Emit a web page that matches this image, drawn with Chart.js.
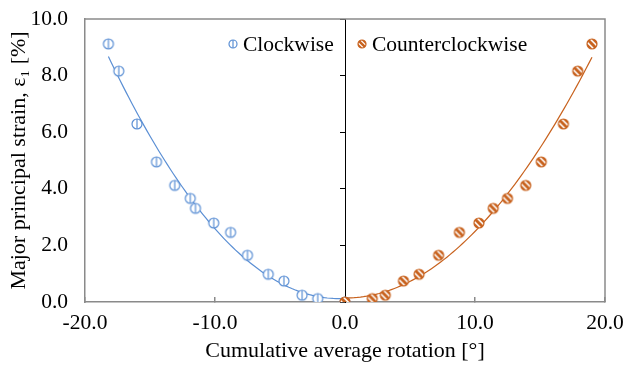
<!DOCTYPE html>
<html>
<head>
<meta charset="utf-8">
<script src="https://cdn.jsdelivr.net/npm/chart.js@4.4.0/dist/chart.umd.min.js"></script>
<style>
  html, body { margin: 0; padding: 0; background: #fff; }
  #wrap { width: 626px; height: 368px; }
</style>
</head>
<body>
<div id="wrap"><canvas id="chart" width="626" height="368"></canvas></div>
<script>
// values (rotation in degrees, strain in %)
const cwRotation  = [0, -2.1, -3.3, -4.7, -5.9, -7.5, -8.8, -10.1, -11.5, -11.9, -13.1, -14.5, -16.0, -17.4, -18.2];
const cwStrain    = [0, 0.12, 0.24, 0.74, 0.98, 1.65, 2.46, 2.79, 3.31, 3.66, 4.12, 4.95, 6.29, 8.16, 9.12];
const ccwRotation = [0, 2.1, 3.1, 4.5, 5.7, 7.2, 8.8, 10.3, 11.4, 12.5, 13.9, 15.1, 16.8, 17.9, 19.0];
const ccwStrain   = [0, 0.12, 0.24, 0.74, 0.98, 1.65, 2.46, 2.79, 3.31, 3.66, 4.12, 4.95, 6.29, 8.16, 9.12];

const xTicks = [-20, -10, 0, 10, 20];
const yTicks = [0, 2, 4, 6, 8, 10];
const seriesNames = ['Clockwise', 'Counterclockwise'];

const cwColor = '#5b8fd4';
const ccwColor = '#c8621e';
const axisGray = '#8a8a8a';
const serif = "'Liberation Serif', 'Times New Roman', serif";

//2nd order polynomial trendline (least squares), like the spreadsheet one
function quadFit(xs, ys) {
    let s = [0, 0, 0, 0, 0], t = [0, 0, 0];
    for (let i = 0; i < xs.length; i++) {
        let p = 1;
        for (let k = 0; k < 5; k++) { s[k] += p; if (k < 3) t[k] += p * ys[i]; p *= xs[i]; }
    }
    const m = [[s[0], s[1], s[2], t[0]], [s[1], s[2], s[3], t[1]], [s[2], s[3], s[4], t[2]]];
    for (let c = 0; c < 3; c++) {
        for (let r = c + 1; r < 3; r++) {
            const f = m[r][c] / m[c][c];
            for (let k = c; k < 4; k++) m[r][k] -= f * m[c][k];
        }
    }
    const b = [0, 0, 0];
    for (let r = 2; r >= 0; r--) {
        let v = m[r][3];
        for (let k = r + 1; k < 3; k++) v -= m[r][k] * b[k];
        b[r] = v / m[r][r];
    }
    return b;
}

function trendPoints(xs, ys) {
    const b = quadFit(xs, ys);
    const lo = Math.min(...xs), hi = Math.max(...xs);
    const pts = [];
    for (let i = 0; i <= 80; i++) {
        const x = lo + (hi - lo) * i / 80;
        pts.push({x: x, y: b[0] + b[1] * x + b[2] * x * x});
    }
    return pts;
}

function toPoints(xs, ys) {
    return xs.map((x, i) => ({x: x, y: ys[i]}));
}

// marker with a vertical stripe (clockwise)
function cwMarker(r) {
    const c = document.createElement('canvas');
    const s = Math.ceil(2 * r + 4);
    c.width = c.height = s;
    const g = c.getContext('2d');
    const m = s / 2;
    g.strokeStyle = cwColor;
    g.fillStyle = '#fff';
    g.lineWidth = 1.2;
    g.beginPath(); g.arc(m, m, r, 0, Math.PI * 2); g.fill(); g.stroke();
    g.beginPath(); g.moveTo(m, m - r); g.lineTo(m, m + r); g.stroke();
    return c;
}

// filled marker with white diagonal stripes (counterclockwise)
function ccwMarker(r) {
    const c = document.createElement('canvas');
    const s = Math.ceil(2 * r + 4);
    c.width = c.height = s;
    const g = c.getContext('2d');
    const m = s / 2;
    g.fillStyle = ccwColor;
    g.beginPath(); g.arc(m, m, r, 0, Math.PI * 2); g.fill();
    g.save();
    g.clip();
    g.strokeStyle = '#fff';
    g.lineWidth = r * 0.3;
    const d = r * 0.45;
    [-d, d].forEach(o => {
        g.beginPath();
        g.moveTo(m - r * 2 + o * 0.707, m - r * 2 - o * 0.707);
        g.lineTo(m + r * 2 + o * 0.707, m + r * 2 - o * 0.707);
        g.stroke();
    });
    g.restore();
    g.strokeStyle = ccwColor;
    g.lineWidth = 1.2;
    g.beginPath(); g.arc(m, m, r, 0, Math.PI * 2); g.stroke();
    return c;
}

const cwPoint = cwMarker(5);
const ccwPoint = ccwMarker(5);
const cwKey = cwMarker(4);
const ccwKey = ccwMarker(4);

// grey frame on top and right of the plot area
const framePlugin = {
    id: 'frame',
    beforeDatasetsDraw(chart) {
        const a = chart.chartArea, ctx = chart.ctx;
        ctx.save();
        ctx.strokeStyle = axisGray;
        ctx.lineWidth = 1.5;
        ctx.beginPath();
        ctx.moveTo(a.left, a.top);
        ctx.lineTo(a.right, a.top);
        ctx.lineTo(a.right, a.bottom);
        ctx.stroke();
        ctx.restore();
    }
};

// legend sits inside the plot, near the top
const keyPlugin = {
    id: 'key',
    afterDraw(chart) {
        const a = chart.chartArea, ctx = chart.ctx;
        const items = [
            {img: cwKey, text: seriesNames[0], x: a.left + 148},
            {img: ccwKey, text: seriesNames[1], x: a.left + 277}
        ];
        const y = a.top + 25;
        ctx.save();
        ctx.font = '21.5px ' + serif;
        ctx.fillStyle = '#000';
        ctx.textBaseline = 'middle';
        ctx.textAlign = 'left';
        items.forEach(it => {
            ctx.drawImage(it.img, it.x - it.img.width / 2, y - it.img.height / 2);
            ctx.fillText(it.text, it.x + 10, y + 1);
        });
        ctx.restore();
    }
};

const ctx = document.getElementById('chart').getContext('2d');
const myChart = new Chart(ctx, {
    type: 'scatter',
    data: {
        datasets: [
            {
                label: seriesNames[1],
                data: toPoints(ccwRotation, ccwStrain),
                pointStyle: ccwPoint,
                order: 0
            },
            {
                label: seriesNames[0],
                data: toPoints(cwRotation, cwStrain),
                pointStyle: cwPoint,
                order: 1
            },
            {
                label: 'trend ccw',
                data: trendPoints(ccwRotation, ccwStrain),
                showLine: true,
                borderColor: ccwColor,
                borderWidth: 1.2,
                pointRadius: 0,
                order: 2
            },
            {
                label: 'trend cw',
                data: trendPoints(cwRotation, cwStrain),
                showLine: true,
                borderColor: cwColor,
                borderWidth: 1.2,
                pointRadius: 0,
                order: 3
            }
        ]
    },
    options: {
        responsive: false,
        animation: false,
        layout: {padding: {top: 19, right: 21, left: 0, bottom: 0}},
        plugins: {
            legend: {display: false},
            tooltip: {enabled: false}
        },
        scales: {
            x: {
                type: 'linear',
                position: 'bottom',
                min: xTicks[0],
                max: xTicks[xTicks.length - 1],
                afterBuildTicks: s => { s.ticks = xTicks.map(v => ({value: v})); },
                ticks: {
                    callback: v => v.toFixed(1),
                    font: {family: serif, size: 21.5},
                    color: '#000',
                    padding: 13,
                    maxRotation: 0
                },
                grid: {drawOnChartArea: false, tickLength: -5, color: axisGray, lineWidth: 1.5},
                border: {color: axisGray, width: 1.5},
                title: {
                    display: true,
                    text: 'Cumulative average rotation [°]',
                    font: {family: serif, size: 22},
                    color: '#000',
                    padding: {top: 9}
                },
                afterFit: s => { s.height = 66; s.paddingLeft = 0; s.paddingRight = 0; }
            },
            y: {
                type: 'linear',
                position: 'left',
                min: yTicks[0],
                max: yTicks[yTicks.length - 1],
                afterBuildTicks: s => { s.ticks = yTicks.map(v => ({value: v})); },
                ticks: {
                    callback: v => v.toFixed(1),
                    font: {family: serif, size: 21.5},
                    color: '#000',
                    padding: 17
                },
                grid: {display: false, drawTicks: false},
                border: {color: axisGray, width: 1.5},
                title: {
                    display: true,
                    text: 'Major principal strain, ε₁ [%]',
                    font: {family: serif, size: 22},
                    color: '#000',
                    padding: {top: 6, bottom: 0}
                },
                afterFit: s => { s.width = 85; s.paddingTop = 0; s.paddingBottom = 0; }
            },
            // vertical axis crossing at zero rotation
            yc: {
                type: 'linear',
                position: {x: 0},
                min: yTicks[0],
                max: yTicks[yTicks.length - 1],
                afterBuildTicks: s => { s.ticks = yTicks.map(v => ({value: v})); },
                ticks: {display: false},
                grid: {drawOnChartArea: false, tickLength: 5, color: '#000', lineWidth: 1},
                border: {color: '#000', width: 1},
                afterFit: s => { s.width = 0; s.paddingTop = 0; s.paddingBottom = 0; }
            }
        }
    },
    plugins: [framePlugin, keyPlugin]
});
</script>
</body>
</html>
